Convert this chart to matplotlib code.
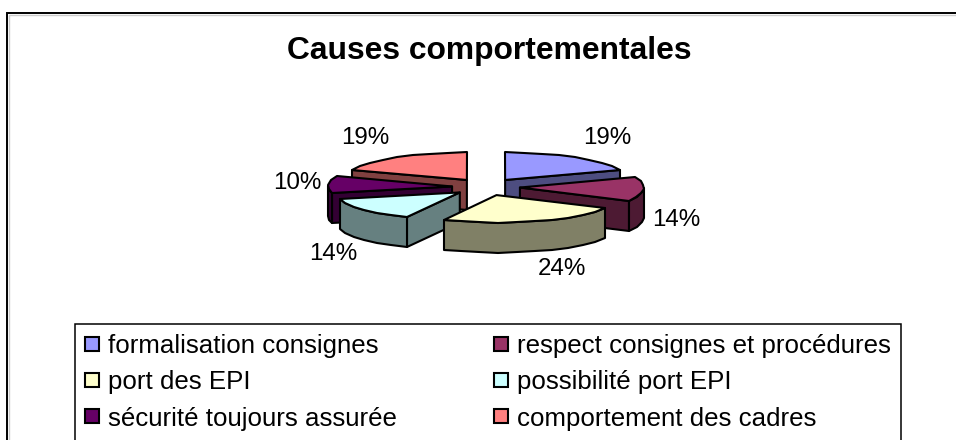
import numpy as np
import matplotlib
matplotlib.use("Agg")
import matplotlib.pyplot as plt
from matplotlib.patches import Polygon, Patch

categories = ["formalisation consignes", "respect consignes et procédures",
              "port des EPI", "possibilité port EPI",
              "sécurité toujours assurée", "comportement des cadres"]
values = [19, 14, 24, 14, 10, 19]
pct_labels = ["19%", "14%", "24%", "14%", "10%", "19%"]
top_colors = ["#9999FF", "#993366", "#FFFFCC", "#CCFFFF", "#660066", "#FF8080"]
side_colors = ["#4D4D80", "#4D1A33", "#808066", "#668080", "#330033", "#804040"]

# layout (pixels)
CX, CY, RX, RY, EXPLODE, KY, DEPTH = 486, 187, 124, 27.5, 34, 0.25, 30
DRAW_ORDER = [5, 0, 4, 1, 3, 2]
LABEL_POS = [(607, 138), (676, 220), (562, 269), (333, 254), (297, 183), (365, 138)]

plt.rcParams["font.family"] = ["Liberation Sans", "DejaVu Sans"]
fig = plt.figure(figsize=(9.56, 4.40), dpi=100)
ax = fig.add_axes([0, 0, 1, 1])
ax.set_xlim(0, 956)
ax.set_ylim(440, 0)
ax.axis("off")

ax.plot([7, 7, 956], [440, 13.5, 13.5], color="#cccccc", lw=1.0, zorder=0, solid_joinstyle="miter",
        transform=ax.transData + matplotlib.transforms.ScaledTranslation(1.5/100, -1.5/100, fig.dpi_scale_trans))
ax.plot([7, 7, 956], [440, 13.5, 13.5], color="black", lw=1.4, zorder=1, solid_joinstyle="miter")

ax.text(489, 59, "Causes comportementales", fontsize=22.9, fontweight="bold",
        ha="center", va="baseline")

fractions = np.array(values) / sum(values)
edges = np.concatenate([[0], np.cumsum(fractions) * 360])


def arc(a, b, cx, cy):
    n = max(int(abs(b - a) / 8), 2)
    t = np.radians(np.linspace(a, b, n + 1))
    return np.column_stack([np.round(cx + RX * np.sin(t)), np.round(cy - RY * np.cos(t))])


z = 5
for i in DRAW_ORDER:
    a1, a2 = edges[i], edges[i + 1]
    mid = np.radians((a1 + a2) / 2)
    ax_x = CX + EXPLODE * np.sin(mid)
    ax_y = CY - EXPLODE * KY * np.cos(mid)
    style = dict(edgecolor="black", linewidth=1.5, joinstyle="round")
    apex = np.array([ax_x, ax_y])
    down = np.array([0, DEPTH])
    top = arc(a1, a2, ax_x, ax_y)
    faces = []
    if np.sin(np.radians(a1)) < -1e-6:
        faces.append(np.array([apex, top[0], top[0] + down, apex + down]))
    if np.sin(np.radians(a2)) > 1e-6:
        faces.append(np.array([apex, top[-1], top[-1] + down, apex + down]))
    lo, hi = max(a1, 90), min(a2, 270)
    if hi > lo:
        front = arc(lo, hi, ax_x, ax_y)
        faces.append(np.vstack([front, front[::-1] + down]))
    for f in faces:
        ax.add_patch(Polygon(f, closed=True, facecolor=side_colors[i], zorder=z, **style))
        z += 1
    ax.add_patch(Polygon(np.vstack([apex, top]), closed=True, facecolor=top_colors[i], zorder=z, **style))
    z += 1

for lab, (x, y) in zip(pct_labels, LABEL_POS):
    ax.text(x, y, lab, fontsize=17.4, ha="center", va="center", zorder=50)

handles = [Patch(facecolor=c, edgecolor="black", linewidth=1.5) for c in top_colors]
order = [0, 2, 4, 1, 3, 5]
leg = ax.legend([handles[i] for i in order], [categories[i] for i in order], ncol=2,
                loc="center", bbox_to_anchor=(75 / 956, 1 - 439 / 440, 826 / 956, 113 / 440),
                bbox_transform=ax.transAxes, mode="expand", fontsize=18.6,
                frameon=True, fancybox=False, edgecolor="black", framealpha=1,
                handlelength=0.54, handleheight=0.46, handletextpad=0.35, labelspacing=0.47,
                borderpad=0.39, borderaxespad=0, columnspacing=1.0)
leg.get_frame().set_linewidth(1.1)
leg.set_zorder(60)

fig.savefig("out.png", dpi=100)
